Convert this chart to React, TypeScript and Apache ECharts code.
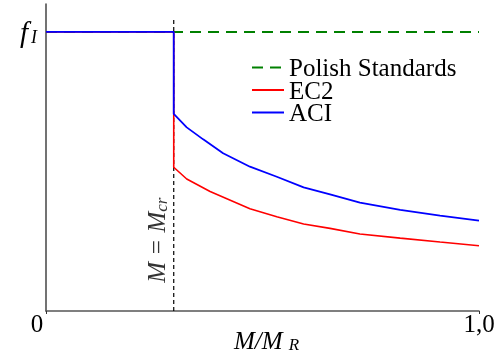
import React, { useEffect, useRef } from "react";
import * as echarts from "echarts";

const MCR = 0.295;
const xTickLabels = ["0", "1,0"];
const polishX = [0, 1];
const polishY = [1, 1];
const ec2X = [0, 0.295, 0.295, 0.325, 0.379, 0.471, 0.533, 0.595, 0.656, 0.725, 0.818, 0.91, 1.0];
const ec2Y = [1, 1, 0.515, 0.473, 0.428, 0.366, 0.338, 0.312, 0.296, 0.276, 0.261, 0.247, 0.234];
const aciX = [0, 0.295, 0.295, 0.325, 0.363, 0.409, 0.471, 0.533, 0.595, 0.656, 0.725, 0.818, 0.91, 1.0];
const aciY = [1, 1, 0.706, 0.658, 0.615, 0.565, 0.517, 0.481, 0.443, 0.418, 0.388, 0.362, 0.342, 0.324];
const mcrLineY = [0, 1.045];
const seriesNames = ["Polish Standards", "EC2", "ACI"];

const FONT = "Liberation Serif";

export default function App() {
  const ref = useRef<HTMLDivElement>(null);
  useEffect(() => {
    if (!ref.current) return;
    const chart = echarts.init(ref.current, null, { renderer: "svg" });
    const zip = (xs: number[], ys: number[]) => xs.map((x, i) => [x, ys[i]]);
    chart.setOption({
      animation: false,
      textStyle: { fontFamily: FONT },
      grid: { left: 46, right: 18, top: 4, bottom: 49, containLabel: false, outerBoundsMode: "none" },
      legend: {
        data: seriesNames,
        orient: "vertical",
        left: 251,
        top: 55,
        padding: 0,
        itemWidth: 32,
        itemHeight: 10,
        itemGap: -2.5,
        itemStyle: { opacity: 0 },
        textStyle: { fontFamily: FONT, fontSize: 25, color: "#000" },
      },
      xAxis: {
        type: "value",
        min: 0,
        max: 1,
        interval: 1,
        splitLine: { show: false },
        axisLine: { lineStyle: { color: "#555", width: 1.5 } },
        axisTick: { show: true, length: 3, lineStyle: { color: "#333" } },
        axisLabel: {
          margin: 0,
          color: "#000",
          fontFamily: FONT,
          fontSize: 25,
          formatter: (v: number) => (v < 0.5 ? `{z|${xTickLabels[0]}}` : `{o|${xTickLabels[1]}}`),
          rich: {
            z: { fontFamily: FONT, fontSize: 25, color: "#000", padding: [0, 18, 0, 0] },
            o: { fontFamily: FONT, fontSize: 25, color: "#000" },
          },
        },
        name: "{m|M/M }{s|R}",
        nameLocation: "middle",
        nameGap: 16,
        nameMoveOverlap: false,
        nameTextStyle: {
          rich: {
            m: { fontFamily: FONT, fontSize: 25, fontStyle: "italic", color: "#000", lineHeight: 26, padding: [0, 0, 0, 8] },
            s: { fontFamily: FONT, fontSize: 17, fontStyle: "italic", color: "#000", lineHeight: 10, verticalAlign: "bottom" },
          },
        },
      },
      yAxis: {
        type: "value",
        min: 0,
        max: 1.1,
        interval: 0.1,
        splitLine: { show: false },
        axisLine: { lineStyle: { color: "#444", width: 1.5 } },
        axisTick: { show: false },
        axisLabel: {
          margin: 9,
          formatter: (v: number) => (Math.abs(v - 1) < 1e-6 ? "{f|f}{s|I}" : ""),
          rich: {
            f: { fontFamily: FONT, fontSize: 29, fontStyle: "italic", color: "#000", lineHeight: 28 },
            s: { fontFamily: FONT, fontSize: 18, fontStyle: "italic", color: "#000", lineHeight: 10, verticalAlign: "bottom", padding: [0, 0, 0, 3] },
          },
        },
      },
      series: [
        {
          name: seriesNames[0],
          type: "line",
          symbol: "none",
          data: zip(polishX, polishY),
          lineStyle: { color: "#008000", width: 2, type: [11, 7] },
          itemStyle: { color: "#008000" },
          z: 2,
        },
        {
          name: seriesNames[1],
          type: "line",
          symbol: "none",
          data: zip(ec2X, ec2Y),
          lineStyle: { color: "#ff0000", width: 1.6 },
          itemStyle: { color: "#ff0000" },
          z: 3,
        },
        {
          name: seriesNames[2],
          type: "line",
          symbol: "none",
          data: zip(aciX, aciY),
          lineStyle: { color: "#0000ff", width: 1.8 },
          itemStyle: { color: "#0000ff" },
          z: 4,
        },
        {
          name: "mcr",
          type: "line",
          symbol: "none",
          data: mcrLineY.map((y) => [MCR, y]),
          lineStyle: { color: "#000", width: 1.2, type: [4, 3] },
          z: 1,
        },
        {
          name: "mcrLabel",
          type: "scatter",
          symbolSize: 1,
          itemStyle: { color: "rgba(0,0,0,0)" },
          data: [[0.256, 0.254]],
          label: {
            show: true,
            position: "inside",
            rotate: 90,
            formatter: "{m|M = M}{s|cr}",
            rich: {
              m: { fontFamily: FONT, fontSize: 25, fontStyle: "italic", color: "#000", lineHeight: 26 },
              s: { fontFamily: FONT, fontSize: 17, fontStyle: "italic", color: "#000", lineHeight: 10, verticalAlign: "bottom" },
            },
          },
        },
      ],
    });
    return () => chart.dispose();
  }, []);
  return <div ref={ref} style={{ position: "fixed", left: 0, top: 0, width: 497, height: 360 }} />;
}
